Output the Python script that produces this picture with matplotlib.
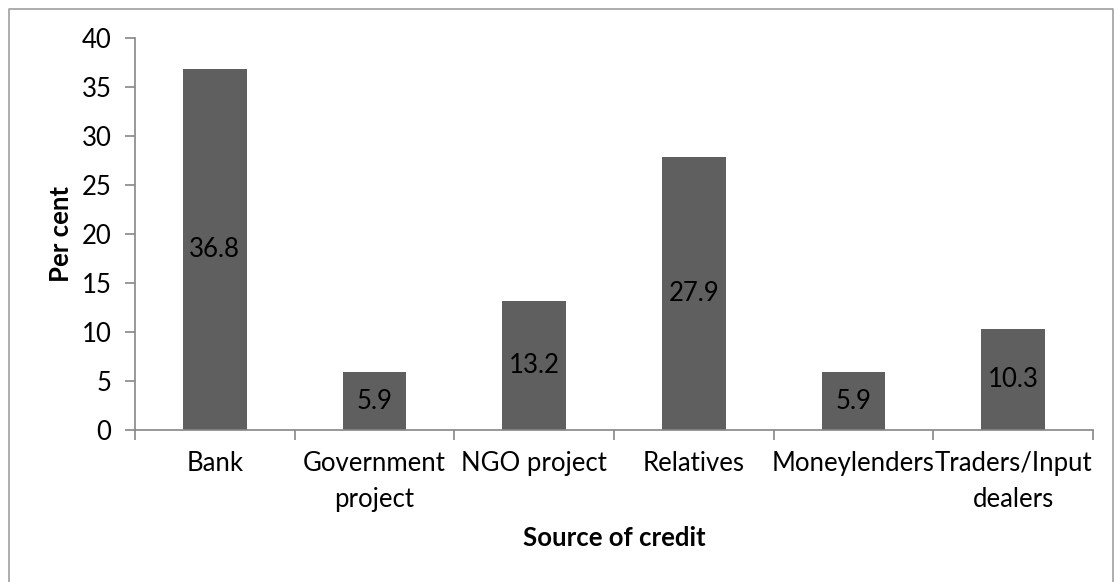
import numpy as np
import matplotlib.pyplot as plt
from matplotlib.lines import Line2D

# credit sources and share of borrowers (%)
sources = ['Bank', 'Government\nproject', 'NGO project', 'Relatives',
           'Moneylenders', 'Traders/Input\ndealers']
share = [36.8, 5.9, 13.2, 27.9, 5.9, 10.3]

plt.rcParams['font.family'] = ['Lato', 'DejaVu Sans']
axis_grey = '#868686'
bar_grey = '#5f5f5f'
fs = 18.5

fig = plt.figure(figsize=(11.15, 5.82), dpi=100)
ax = fig.add_axes([0.1211, 0.2612, 0.8592, 0.6735])

x = np.arange(len(sources))
bars = ax.bar(x, share, width=0.4, color=bar_grey, edgecolor='none')

# value labels in the middle of each bar
for b, v in zip(bars, share):
    ax.text(b.get_x() + b.get_width() / 2, v / 2, f'{v:.1f}',
            ha='center', va='center', fontsize=fs, color='black')

ax.set_xlim(-0.5, len(sources) - 0.5)
ax.set_ylim(0, 40)
ax.set_yticks(range(0, 41, 5))

ax.set_xticks(x)
ax.set_xticklabels(sources, fontsize=fs, linespacing=1.55)
ax.set_xticks(np.arange(-0.5, len(sources)), minor=True)
ax.tick_params(axis='x', which='major', length=0, pad=15)
ax.tick_params(axis='x', which='minor', length=7, width=1.2, color=axis_grey)
ax.tick_params(axis='y', length=7, width=1.2, color=axis_grey, labelsize=fs, pad=10)

for side in ['top', 'right']:
    ax.spines[side].set_visible(False)
for side in ['left', 'bottom']:
    ax.spines[side].set_color(axis_grey)
    ax.spines[side].set_linewidth(1.2)

ax.set_xlabel('Source of credit', fontsize=fs, fontweight='bold', labelpad=10)
ax.set_ylabel('Per cent', fontsize=fs, fontweight='bold', labelpad=6)

# chart area frame
frame_x = [9 / 1115, 9 / 1115, 1113 / 1115, 1113 / 1115]
frame_y = [0, 1 - 9 / 582, 1 - 9 / 582, 0]
fig.add_artist(Line2D(frame_x, frame_y, color='#a0a0a0', linewidth=1.2,
                      transform=fig.transFigure))

fig.savefig('out.png', dpi=100)
